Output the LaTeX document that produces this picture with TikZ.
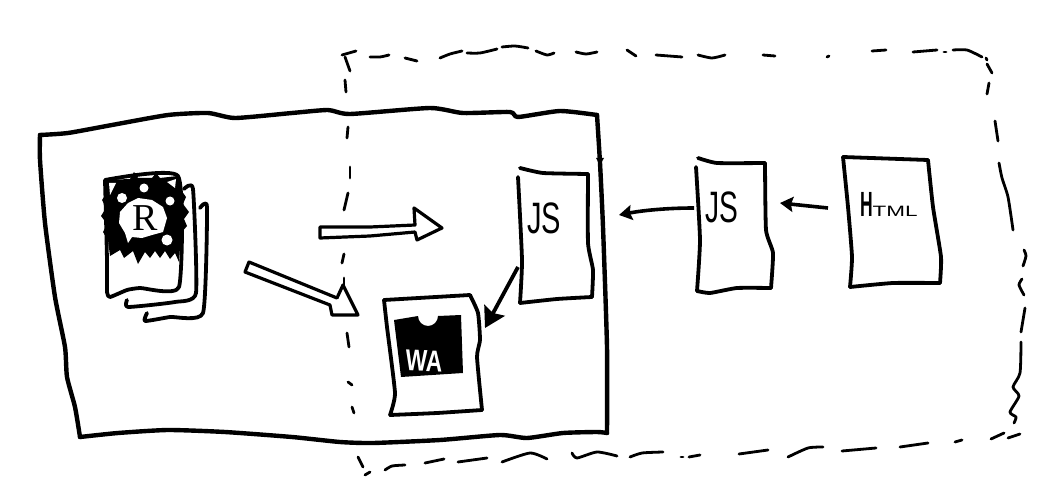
\documentclass[tikz,border=0pt]{standalone}
\usepackage{fontspec}
\usepackage{graphicx}
\setmainfont{Liberation Sans}
\newfontfamily\serifrm{Liberation Serif}
\usetikzlibrary{arrows.meta}
\tikzset{
  x=1pt,y=-1pt,
  ink/.style={line join=round,line cap=round,draw=black},
  bigline/.style={ink,line width=4.4pt},
  pageline/.style={ink,line width=3.8pt},
  stackline/.style={ink,line width=3.8pt},
  dashline/.style={ink,line width=2.8pt},
  hollow/.style={ink,line width=3.2pt,fill=white},
  thinarrow/.style={ink,line width=3.6pt,line cap=butt,-{Stealth[length=13pt,width=15pt,inset=2pt]}},
  bigarrow/.style={ink,line width=3.8pt,line cap=butt,-{Stealth[length=20pt,width=23pt,inset=3pt]}},
  label/.style={inner sep=0pt,outer sep=0pt,anchor=center,text=black},
}
\newcommand{\wig}[2][dashline]{\draw[#1] plot[smooth,tension=.4] coordinates {#2};}
\begin{document}
\begin{tikzpicture}
\useasboundingbox (0,0) rectangle (1062,497);
\fill[white] (0,0) rectangle (1062,497);

% outer dashed boundary: top
\wig{(342,55)(349,53)(356,51)}
\wig{(345,57)(350,71)}
\wig{(370,57)(380,57)(389,55)}
\wig{(405,58)(417,61)}
\wig{(440,58)(450,54)(462,51)}
\wig{(467,53)(480,53)(497,49)}
\wig{(502,47)(515,46)(528,48)}
\wig{(536,51)(547,55)(554,53)}
\wig{(576,52)(586,54)(597,52)}
\wig{(627,50)(636,56)}
\wig{(656,55)(682,57)}
\wig{(698,55)(712,58)(725,55)}
\wig{(763,55)(775,56)}
\wig{(827,57)(829,56)}
\wig{(872,51)(886,50)}
\wig{(913,52)(937,50)}
\wig{(944,52)(946,52)}
\wig{(953,50)(967,50)(982,57)}
\wig{(986,58)(987,60)}
% right
\wig{(987,64)(992,73)}
\wig{(989,83)(987,94)}
\wig{(995,121)(998,141)}
\wig{(999,163)(1002,178)(1008,197)(1013,230)}
\wig{(1024,250)(1026,256)(1023,266)}
\wig{(1022,279)(1019,285)(1024,295)}
\wig{(1025,308)(1023,320)(1021,332)}
\wig{(1021,342)(1020,373)(1013,387)(1019,396)(1010,412)(1016,417)(1014,423)}
% bottom
\wig{(1008,438)(1020,434)}
\wig{(991,439)(1004,433)}
\wig{(955,442)(962,440)}
\wig{(900,447)(928,443)}
\wig{(842,451)(876,448)}
\wig{(788,457)(808,448)(823,447)}
\wig{(739,454)(768,450)}
\wig{(689,457)(700,455)}
\wig{(681,457)(683,457)}
\wig{(630,457)(642,453)(663,452)}
\wig{(572,453)(577,458)(597,452)(617,456)}
\wig{(502,462)(530,453)(547,459)}
\wig{(458,462)(487,458)}
\wig{(425,463)(444,459)}
\wig{(385,470)(392,466)(405,465)}
\wig{(365,475)(370,472)}
\wig{(358,457)(363,467)}
% left
\wig{(352,407)(354,413)}
\wig{(348,382)(352,385)}
\wig{(347,333)(349,347)}
\wig{(344,278)(344,285)}
\wig{(344,254)(342,263)}
\wig{(348,193)(344,210)}
\wig{(350,167)(350,178)}
\wig{(348,127)(347,138)}
\wig{(345,80)(346,92)}

% big solid box
\draw[bigline] plot[smooth,tension=.35] coordinates {(40,135)(68,133)(112,125)(168,115)(208,113)(235,118)(292,113)(328,110)(350,114)(430,108)(463,113)(510,112)(518,117)(560,111)(597,115)};
\draw[bigline] plot[smooth,tension=.35] coordinates {(597,115)(600,163)(603,227)(607,347)(607,433)};
\draw[bigline] plot[smooth,tension=.35] coordinates {(607,433)(597,432)(563,433)(527,438)(500,435)(440,440)(373,443)(340,442)(292,437)(225,432)(168,430)(118,433)(80,437)};
\draw[bigline] plot[smooth,tension=.35] coordinates {(80,437)(75,407)(67,377)(65,347)(55,297)(45,223)(40,160)(40,135)};
\fill (596,158) -- (604,158) -- (600,165) -- cycle;

% R logo: spiky blot
\fill[black] (105,180) -- (130,179) -- (134,172) -- (138,178) -- (152,178) -- (156,173) -- (160,178) -- (178,176)
  -- (181,190) -- (186,197) -- (183,204) -- (189,212) -- (184,219) -- (187,226) -- (181,233) -- (179,262)
  -- (175,253) -- (170,259) -- (165,251) -- (160,258) -- (155,251) -- (150,258) -- (145,252) -- (138,264)
  -- (133,251) -- (124,258) -- (120,250) -- (110,256) -- (108,240) -- (103,232) -- (107,224) -- (101,216)
  -- (106,208) -- (102,200) -- (106,194) -- cycle;
\fill[white] (167,182) -- (176,179) -- (175,188) -- cycle;
\fill[white] (109,183) -- (116,183) -- (110,195) -- cycle;
\fill[white] (128,203) -- (138,198) -- (152,200) -- (163,207) -- (167,218) -- (163,232) -- (152,235) -- (142,238) -- (132,237) -- (128,243) -- (125,233) -- (119,223) -- (120,212) -- cycle;
\fill[white] (144,188) circle (4.5);
\fill[white] (122,198) circle (5);
\fill[white] (170,201) circle (4.5);
\fill[white] (167,240) circle (5.5);
\node[label,font=\serifrm\fontsize{38}{38}\selectfont] (rletter) at (145,218) {R};

% stacked pages
\draw[stackline] plot[smooth,tension=.3] coordinates {(105,180)(178,176)(179,287)(140,288)(127,290)(110,297)(107,292)(107,260)(105,180)};
\draw[stackline] plot[smooth,tension=.3] coordinates {(184,189)(193,189)(196,293)(175,302)(128,307)(127,300)};
\draw[stackline] plot[smooth,tension=.3] coordinates {(200,208)(207,207)(203,313)(170,317)(145,321)(147,313)};

% hollow arrows
\draw[hollow] (320,227) -- (370,227) -- (415,225) -- (414,208) -- (442,228) -- (417,240) -- (415,232) -- (370,236) -- (320,238) -- cycle;
\draw[hollow] (249,262) -- (337,298) -- (343,285) -- (358,315) -- (332,315) -- (330,305) -- (245,272) -- cycle;

% inner JS page
\draw[pageline] plot[smooth,tension=.3] coordinates {(520,168)(543,173)(588,174)};
\draw[pageline] plot[smooth,tension=.3] coordinates {(588,174)(588,243)(593,270)(592,297)};
\draw[pageline] plot[smooth,tension=.3] coordinates {(592,297)(557,299)(520,303)};
\draw[pageline] plot[smooth,tension=.3] coordinates {(520,303)(522,260)(518,177)};
\node[label,font=\fontsize{44}{44}\selectfont] (jsinner) at (544,218) {\scalebox{.66}[1]{JS}};

% WebAssembly page
\draw[pageline] plot[smooth,tension=.3] coordinates {(384,300)(470,295)};
\draw[pageline] plot[smooth,tension=.3] coordinates {(470,295)(478,313)(480,340)(477,357)(482,410)};
\draw[pageline] plot[smooth,tension=.3] coordinates {(482,410)(437,413)(390,415)};
\draw[pageline] plot[smooth,tension=.3] coordinates {(390,415)(395,393)(387,327)(384,300)};
\fill[black] (394,320) -- (418,316) arc[start angle=180,end angle=0,radius=10] -- (461,315) -- (463,373) -- (401,377) -- cycle;
\node[label,text=white,rotate=-2,font=\bfseries\fontsize{30}{30}\selectfont] (watext) at (424,361) {\scalebox{.76}[1]{WA}};

% outer JS page
\draw[pageline] plot[smooth,tension=.3] coordinates {(698,158)(717,163)(765,163)};
\draw[pageline] plot[smooth,tension=.3] coordinates {(765,163)(766,230)(773,253)(771,288)};
\draw[pageline] plot[smooth,tension=.3] coordinates {(771,288)(737,288)(710,293)(697,291)};
\draw[pageline] plot[smooth,tension=.3] coordinates {(697,291)(700,240)(696,167)};
\node[label,font=\fontsize{44}{44}\selectfont] (jsouter) at (722,207) {\scalebox{.64}[1]{JS}};

% HTML page
\draw[pageline] plot[smooth,tension=.3] coordinates {(843,157)(928,160)};
\draw[pageline] plot[smooth,tension=.3] coordinates {(928,160)(933,207)(941,257)(940,283)};
\draw[pageline] plot[smooth,tension=.3] coordinates {(940,283)(893,283)(850,287)};
\draw[pageline] plot[smooth,tension=.3] coordinates {(850,287)(852,257)(848,207)(843,157)};
\node[label,anchor=base west] (htmltext) at (860,216) {\bfseries\fontsize{35}{35}\selectfont\scalebox{.5}[1]{H}\mdseries\fontsize{15}{15}\selectfont\scalebox{1.5}[1]{TML}};

% connectors
\coordinate (htmlout) at (828,208);
\coordinate (jsouterin) at (780,203);
\coordinate (jsouterout) at (694,208);
\coordinate (boxedge) at (619,215);
\coordinate (jsinnerout) at (518,267);
\coordinate (wain) at (485,328);
\draw[thinarrow] (htmlout) -- (jsouterin);
\draw[thinarrow] (jsouterout) .. controls (670,208) and (645,210) .. (boxedge);
\draw[bigarrow] (jsinnerout) -- (wain);
\end{tikzpicture}
\end{document}
